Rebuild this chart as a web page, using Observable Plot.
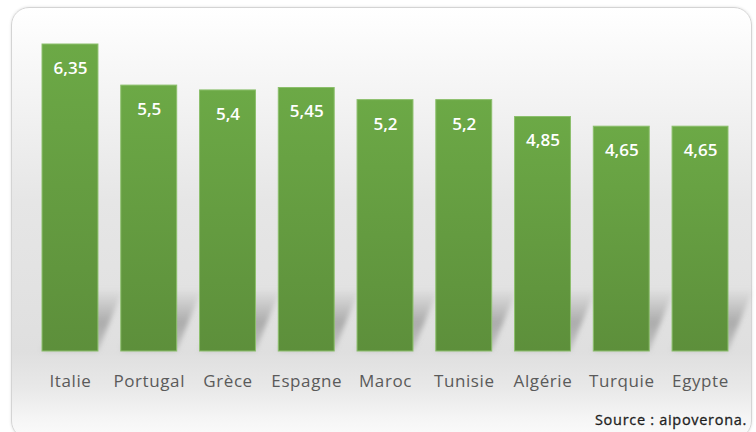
<!DOCTYPE html>
<html>
<head>
<meta charset="utf-8">
<script src="https://cdn.jsdelivr.net/npm/d3@7"></script>
<script src="https://cdn.jsdelivr.net/npm/@observablehq/plot@0.6"></script>
<style>
  html, body { margin: 0; padding: 0; background: #ffffff; }
  #wrap { position: relative; width: 756px; height: 432px; overflow: hidden; }
  #bg {
    position: absolute; left: 11px; top: 7px; width: 741px; height: 432px;
    border: 1px solid #d4d4d4; border-radius: 18px; box-sizing: border-box;
    background: linear-gradient(to bottom, #ffffff 0%, #f4f4f4 20%, #e6e6e6 45%, #dfdfdf 80%, #e8e8e8 88%, #f6f6f6 96%, #fbfbfb 100%);
    box-shadow: 0 0 3px rgba(0,0,0,0.12);
  }
  #chart { position: absolute; left: 0; top: 0; }
  #chart svg { background: transparent !important; }
  #chart g[aria-label="x-axis tick label"] text { font-family: "Open Sans", sans-serif; font-size: 17px; fill: #5a5a5a; letter-spacing: 0.6px; }
  #source {
    position: absolute; right: 9px; top: 410px;
    font-family: "Open Sans", sans-serif; font-size: 14.5px; font-weight: 400; color: #1e1e1e; letter-spacing: 0.7px;
    -webkit-text-stroke: 0.3px #1e1e1e;
  }
</style>
</head>
<body>
<div id="wrap">
  <div id="bg"></div>
  <div id="chart"></div>
  <div id="source">Source : aipoverona.</div>
</div>
<script>
const categories = ["Italie", "Portugal", "Grèce", "Espagne", "Maroc", "Tunisie", "Algérie", "Turquie", "Egypte"];
const values = [6.35, 5.5, 5.4, 5.45, 5.2, 5.2, 4.85, 4.65, 4.65];
const valueLabels = ["6,35", "5,5", "5,4", "5,45", "5,2", "5,2", "4,85", "4,65", "4,65"];

const data = categories.map((c, i) => ({cat: categories[i], value: values[i], label: valueLabels[i]}));

const chart = Plot.plot({
  width: 756,
  height: 432,
  marginTop: 44,
  marginBottom: 81,
  marginLeft: 30.6,
  marginRight: 16.6,
  style: {background: "transparent", overflow: "visible"},
  x: {domain: categories, paddingInner: 0.29, paddingOuter: 0.145, round: false, label: null},
  y: {domain: [0, 6.35], axis: null},
  marks: [
    Plot.barY(data, {
      x: "cat", y1: 0, y2: 1.3,
      fill: "url(#shadowGrad)",
      render(index, scales, values, dimensions, context, next) {
        const g = next(index, scales, values, dimensions, context);
        const y0 = scales.y(0);
        g.setAttribute("filter", "url(#shadowBlur)");
        g.querySelectorAll("rect").forEach(r => {
          r.setAttribute("transform", `translate(0,${y0}) skewX(-22) translate(0,${-y0})`);
        });
        return g;
      }
    }),
    Plot.barY(data, {x: "cat", y: "value", fill: "url(#barGrad)", stroke: "#8cbf6c", strokeWidth: 1}),
    Plot.text(data, {
      x: "cat", y: "value", text: "label", dy: 24,
      fill: "#ffffff", fontSize: 17, fontWeight: 600,
      fontFamily: "Open Sans, sans-serif"
    }),
    Plot.axisX({tickSize: 0, tickPadding: 23, label: null})
  ]
});

const defs = d3.select(chart).insert("defs", ":first-child");
const bg = defs.append("linearGradient").attr("id", "barGrad").attr("x1", 0).attr("y1", 0).attr("x2", 0).attr("y2", 1);
bg.append("stop").attr("offset", "0%").attr("stop-color", "#6ca946");
bg.append("stop").attr("offset", "100%").attr("stop-color", "#5d8f3b");
const sg = defs.append("linearGradient").attr("id", "shadowGrad").attr("x1", 0).attr("y1", 0).attr("x2", 0).attr("y2", 1);
sg.append("stop").attr("offset", "0%").attr("stop-color", "#9a9a9a").attr("stop-opacity", 0);
sg.append("stop").attr("offset", "55%").attr("stop-color", "#959595").attr("stop-opacity", 0.7);
sg.append("stop").attr("offset", "100%").attr("stop-color", "#a8a8a8").attr("stop-opacity", 0.55);
defs.append("filter").attr("id", "shadowBlur").attr("x", "-20%").attr("y", "-20%").attr("width", "140%").attr("height", "140%")
  .append("feGaussianBlur").attr("stdDeviation", 2.5);

document.getElementById("chart").appendChild(chart);
</script>
</body>
</html>
